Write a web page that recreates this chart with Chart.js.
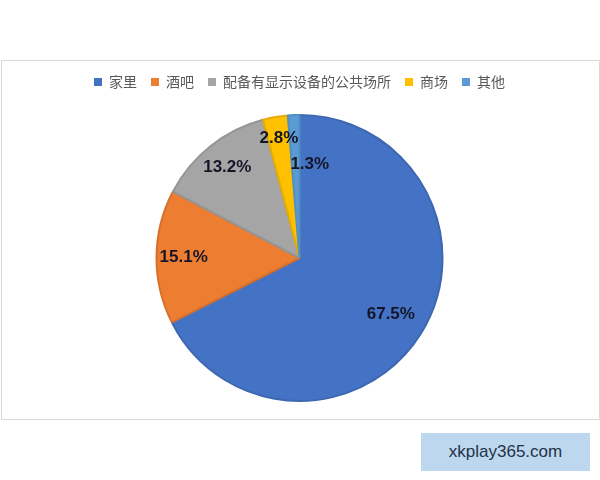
<!DOCTYPE html>
<html><head><meta charset="utf-8">
<script src="https://cdn.jsdelivr.net/npm/chart.js@4/dist/chart.umd.min.js"></script>
<style>
html,body{margin:0;padding:0;background:#fff;}
#page{position:relative;width:600px;height:480px;overflow:hidden;}
#frame{position:absolute;left:1px;top:60px;width:597px;height:358px;border:1px solid #d9d9d9;}
#wm{position:absolute;left:421px;top:433px;width:169px;height:38px;background:#bdd7ee;color:#22324a;font-family:"Liberation Sans",Arial,sans-serif;font-size:17px;line-height:38px;text-align:center;}
</style></head>
<body><div id="page">
<div id="frame"><canvas id="c"></canvas></div>
<div id="wm">xkplay365.com</div>
</div>
<script>
const categories = ["家里","酒吧","配备有显示设备的公共场所","商场","其他"];
const values = [67.5, 15.1, 13.2, 2.8, 1.3];
const labelsText = ["67.5%","15.1%","13.2%","2.8%","1.3%"];
const colors = ["#4472C4","#ED7D31","#A5A5A5","#FFC000","#5B9BD5"];
const borders = ["#3E67B1","#D5712C","#959595","#E6AD00","#5290C4"];
const labelRadius = [0.75,0.81,0.81,0.85,0.66];
const labelAngleShift = [0,0,0,0,0.15];

const legendMargin = {
  id:'legendMargin',
  beforeInit(chart){
    const orig = chart.legend.fit;
    chart.legend.fit = function(){ orig.call(this); this.height += 16; };
  }
};
const sliceLabels = {
  id:'sliceLabels',
  afterDatasetsDraw(chart){
    const ctx = chart.ctx;
    const meta = chart.getDatasetMeta(0);
    ctx.save();
    ctx.font = '600 17px "Liberation Sans", Arial, sans-serif';
    ctx.fillStyle = '#151528';
    ctx.textAlign = 'center';
    ctx.textBaseline = 'middle';
    meta.data.forEach((arc,i)=>{
      const p = arc.getProps(['x','y','startAngle','endAngle','outerRadius'], true);
      const a = (p.startAngle + p.endAngle)/2 + labelAngleShift[i];
      const r = p.outerRadius * labelRadius[i];
      ctx.fillText(labelsText[i], p.x + Math.cos(a)*r, p.y + Math.sin(a)*r);
    });
    ctx.restore();
  }
};

new Chart(document.getElementById('c'), {
  type:'pie',
  data:{
    labels:categories,
    datasets:[{data:values, backgroundColor:colors, borderColor:borders, borderWidth:2, radius:143}]
  },
  options:{
    responsive:true, maintainAspectRatio:false, animation:false,
    layout:{padding:{top:0,bottom:18,left:0,right:2}},
    plugins:{
      tooltip:{enabled:false},
      legend:{
        position:'top',
        labels:{
          boxWidth:8, boxHeight:8, padding:14, color:'#595959',
          font:{size:14, family:'"Noto Sans CJK SC", sans-serif'},
          generateLabels(chart){
            return categories.map((c,i)=>({text:c, fillStyle:colors[i], strokeStyle:colors[i], lineWidth:0, index:i, fontColor:'#595959'}));
          }
        }
      }
    }
  },
  plugins:[legendMargin, sliceLabels]
});
</script>
</body></html>
